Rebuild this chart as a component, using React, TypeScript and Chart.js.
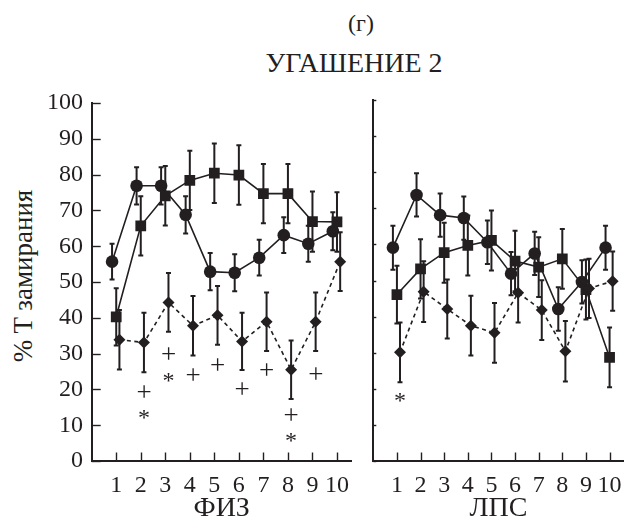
import React, { useEffect, useRef } from 'react';
import { Chart, registerables } from 'chart.js';

Chart.register(...registerables);

// ---------- data ----------
const categories = [1, 2, 3, 4, 5, 6, 7, 8, 9, 10];
const yTickValues = [0, 10, 20, 30, 40, 50, 60, 70, 80, 90, 100];

// ФИЗ panel
const fizCircle = [55.7, 76.9, 76.9, 68.8, 52.9, 52.6, 56.8, 63.1, 60.7, 64.2];
const fizCircleErr = [5.0, 5.2, 5.2, 5.2, 5.2, 5.2, 5.0, 5.0, 5.0, 5.3];
const fizSquare = [40.3, 65.7, 74.1, 78.4, 80.4, 79.9, 74.7, 74.7, 66.9, 66.8];
const fizSquareErr = [8.0, 8.3, 8.3, 8.3, 8.3, 8.3, 8.3, 8.3, 8.4, 8.3];
const fizDiamond = [33.9, 33.1, 44.3, 37.8, 40.7, 33.4, 38.9, 25.5, 38.9, 55.7];
const fizDiamondErr = [8.3, 8.3, 8.2, 8.3, 8.2, 8.0, 8.2, 8.2, 8.2, 8.2];
const fizPlusX = [2, 3, 4, 5, 6, 7, 8, 9];
const fizPlusY = [19.5, 30.1, 24.1, 27.1, 20.2, 25.5, 13.1, 24.5];
const fizStarX = [2, 3, 8];
const fizStarY = [13.0, 23.4, 6.5];

// ЛПС panel
const lpsCircle = [59.1, 73.7, 68.1, 67.3, 60.6, 51.9, 57.5, 42.1, 49.6, 59.1];
const lpsCircleErr = [6.1, 6.0, 6.0, 6.0, 6.0, 6.0, 6.0, 6.0, 6.0, 6.1];
const lpsSquare = [46.1, 53.2, 57.7, 59.7, 61.1, 55.4, 53.7, 56.0, 47.5, 28.7];
const lpsSquareErr = [8.0, 8.2, 8.3, 8.3, 8.3, 8.4, 8.3, 8.3, 8.3, 8.3];
const lpsDiamond = [30.1, 46.9, 42.1, 37.5, 35.5, 46.6, 41.8, 30.4, 47.8, 49.8];
const lpsDiamondErr = [8.3, 8.4, 8.2, 8.3, 8.3, 8.2, 8.3, 8.4, 8.2, 8.2];
const lpsStarX = [1];
const lpsStarY = [17.5];

const titleTop = '(г)';
const titleMain = 'УГАШЕНИЕ 2';
const yTitle = '% T замирания';
const fizTitle = 'ФИЗ';
const lpsTitle = 'ЛПС';

// ---------- styles ----------
const INK = '#231f20';
const FONT = '"Liberation Serif", "Times New Roman", serif';
const CIRCLE_OFF = -0.17;
const DIAMOND_OFF = 0.13;
const X_MAX = 10.6;

const errorBarsPlugin = {
  id: 'errBars',
  beforeDatasetsDraw(chart: any) {
    const { ctx, scales } = chart;
    ctx.save();
    ctx.strokeStyle = INK;
    ctx.lineWidth = 2;
    chart.data.datasets.forEach((ds: any, di: number) => {
      if (!ds.errors) return;
      const meta = chart.getDatasetMeta(di);
      meta.data.forEach((el: any, i: number) => {
        const v = ds.data[i].y;
        const e = ds.errors[i];
        const x = el.x;
        const yt = scales.y.getPixelForValue(v + e);
        const yb = scales.y.getPixelForValue(v - e);
        ctx.beginPath();
        ctx.moveTo(x, yt);
        ctx.lineTo(x, yb);
        ctx.moveTo(x - 2.5, yt);
        ctx.lineTo(x + 2.5, yt);
        ctx.moveTo(x - 2.5, yb);
        ctx.lineTo(x + 2.5, yb);
        ctx.stroke();
      });
    });
    ctx.restore();
  },
};

const inTicksPlugin = {
  id: 'inTicks',
  afterDraw(chart: any, _a: any, opts: any) {
    const { ctx, chartArea, scales } = chart;
    ctx.save();
    ctx.strokeStyle = INK;
    ctx.lineWidth = 1.4;
    categories.forEach((c) => {
      const x = Math.round(scales.x.getPixelForValue(c)) + 0.5;
      ctx.beginPath();
      ctx.moveTo(x, chartArea.bottom);
      ctx.lineTo(x, chartArea.bottom - opts.xLen);
      ctx.stroke();
    });
    yTickValues.forEach((v) => {
      const y = Math.round(scales.y.getPixelForValue(v)) + 0.5;
      ctx.beginPath();
      ctx.moveTo(chartArea.left, y);
      ctx.lineTo(chartArea.left + opts.yLen, y);
      ctx.stroke();
    });
    ctx.restore();
  },
};

const marksPlugin = {
  id: 'marks',
  afterDatasetsDraw(chart: any, _a: any, opts: any) {
    const { ctx, scales } = chart;
    ctx.save();
    ctx.fillStyle = INK;
    ctx.textBaseline = 'alphabetic';
    ctx.textAlign = 'left';
    (opts.items || []).forEach((it: any) => {
      ctx.font = `${it.size}px ${FONT}`;
      const m = ctx.measureText(it.t);
      const w = m.actualBoundingBoxRight + m.actualBoundingBoxLeft;
      const h = m.actualBoundingBoxAscent + m.actualBoundingBoxDescent;
      const cx = scales.x.getPixelForValue(it.x);
      const cy = scales.y.getPixelForValue(it.y);
      ctx.fillText(it.t, cx - w / 2 + m.actualBoundingBoxLeft, cy + h / 2 - m.actualBoundingBoxDescent);
    });
    ctx.restore();
  },
};

function buildDatasets(c: number[], ce: number[], s: number[], se: number[], d: number[], de: number[]) {
  const pts = (vals: number[], off: number) => categories.map((k, i) => ({ x: k + off, y: vals[i] }));
  const common = {
    borderColor: INK,
    backgroundColor: INK,
    pointBackgroundColor: INK,
    pointBorderColor: INK,
    pointBorderWidth: 0,
    borderWidth: 1.6,
    tension: 0,
    fill: false,
    showLine: true,
  };
  return [
    { ...common, label: 'diamond', data: pts(d, DIAMOND_OFF), errors: de, pointStyle: 'rectRot', pointRadius: 6, borderDash: [4, 3.5] },
    { ...common, label: 'square', data: pts(s, 0), errors: se, pointStyle: 'rect', pointRadius: 7.6 },
    { ...common, label: 'circle', data: pts(c, CIRCLE_OFF), errors: ce, pointStyle: 'circle', pointRadius: 6.3 },
  ];
}

function makeConfig(panel: 'fiz' | 'lps') {
  const isFiz = panel === 'fiz';
  const datasets = isFiz
    ? buildDatasets(fizCircle, fizCircleErr, fizSquare, fizSquareErr, fizDiamond, fizDiamondErr)
    : buildDatasets(lpsCircle, lpsCircleErr, lpsSquare, lpsSquareErr, lpsDiamond, lpsDiamondErr);
  const items: any[] = [];
  if (isFiz) {
    fizPlusX.forEach((x, i) => items.push({ x: x + DIAMOND_OFF, y: fizPlusY[i], t: '+', size: 27 }));
    fizStarX.forEach((x, i) => items.push({ x: x + DIAMOND_OFF, y: fizStarY[i], t: '*', size: 24 }));
  } else {
    lpsStarX.forEach((x, i) => items.push({ x: x + DIAMOND_OFF, y: lpsStarY[i], t: '*', size: 24 }));
  }
  return {
    type: 'line',
    data: { datasets },
    options: {
      responsive: false,
      animation: false,
      devicePixelRatio: 1,
      layout: { padding: { left: 0, top: 20, right: isFiz ? 8.3 : 0, bottom: 0 } },
      plugins: {
        legend: { display: false },
        tooltip: { enabled: false },
        inTicks: { xLen: 8.5, yLen: isFiz ? 9 : 3 },
        marks: { items },
      },
      scales: {
        x: {
          type: 'linear',
          min: 0,
          max: X_MAX,
          grid: { display: false, drawTicks: false },
          border: { display: true, color: INK, width: 2 },
          ticks: {
            stepSize: 1,
            includeBounds: false,
            autoSkip: false,
            maxRotation: 0,
            padding: 10,
            color: INK,
            font: { family: FONT, size: 24 },
            callback: (v: number) => (v >= 1 && v <= 10 && Number.isInteger(v) ? String(v) : ''),
          },
          title: {
            display: true,
            text: isFiz ? fizTitle : lpsTitle,
            color: INK,
            font: { family: FONT, size: 28, lineHeight: 1 },
            padding: { top: 0, bottom: 0 },
          },
          afterFit: (scale: any) => {
            scale.height = 62;
          },
        },
        y: {
          type: 'linear',
          min: 0,
          max: 100,
          grid: { display: false, drawTicks: false },
          border: { display: true, color: INK, width: 2 },
          ticks: {
            display: isFiz,
            stepSize: 10,
            padding: 8.7,
            color: INK,
            font: { family: FONT, size: 24 },
          },
          afterFit: (scale: any) => {
            scale.width = isFiz ? 91.7 : 13.3;
          },
        },
      },
    },
    plugins: [errorBarsPlugin, inTicksPlugin, marksPlugin],
  };
}

function Panel({ panel, left, width }: { panel: 'fiz' | 'lps'; left: number; width: number }) {
  const ref = useRef<HTMLCanvasElement>(null);
  useEffect(() => {
    if (!ref.current) return;
    const chart = new Chart(ref.current, makeConfig(panel) as any);
    return () => chart.destroy();
  }, [panel]);
  return (
    <canvas
      ref={ref}
      width={width}
      height={443}
      style={{ position: 'absolute', left, top: 80, width, height: 443 }}
    />
  );
}

export default function App() {
  return (
    <div
      style={{
        position: 'absolute',
        left: 0,
        top: 0,
        width: 632,
        height: 523,
        overflow: 'hidden',
        background: '#fff',
        fontFamily: FONT,
        color: INK,
      }}
    >
      <div
        style={{
          position: 'absolute',
          left: 261,
          width: 200,
          top: 11,
          textAlign: 'center',
          fontSize: 24,
          lineHeight: '24px',
          whiteSpace: 'nowrap',
        }}
      >
        {titleTop}
      </div>
      <div
        style={{
          position: 'absolute',
          left: 204,
          width: 300,
          top: 49,
          textAlign: 'center',
          fontSize: 28,
          lineHeight: '28px',
          whiteSpace: 'nowrap',
        }}
      >
        {titleMain}
      </div>
      <div
        style={{
          position: 'absolute',
          left: 23 - 150,
          top: 276 - 14,
          width: 300,
          height: 28,
          textAlign: 'center',
          fontSize: 27,
          lineHeight: '28px',
          whiteSpace: 'nowrap',
          transform: 'rotate(-90deg)',
          transformOrigin: '150px 14px',
        }}
      >
        {yTitle}
      </div>
      <Panel panel="fiz" left={0} width={360} />
      <Panel panel="lps" left={360} width={272} />
    </div>
  );
}
